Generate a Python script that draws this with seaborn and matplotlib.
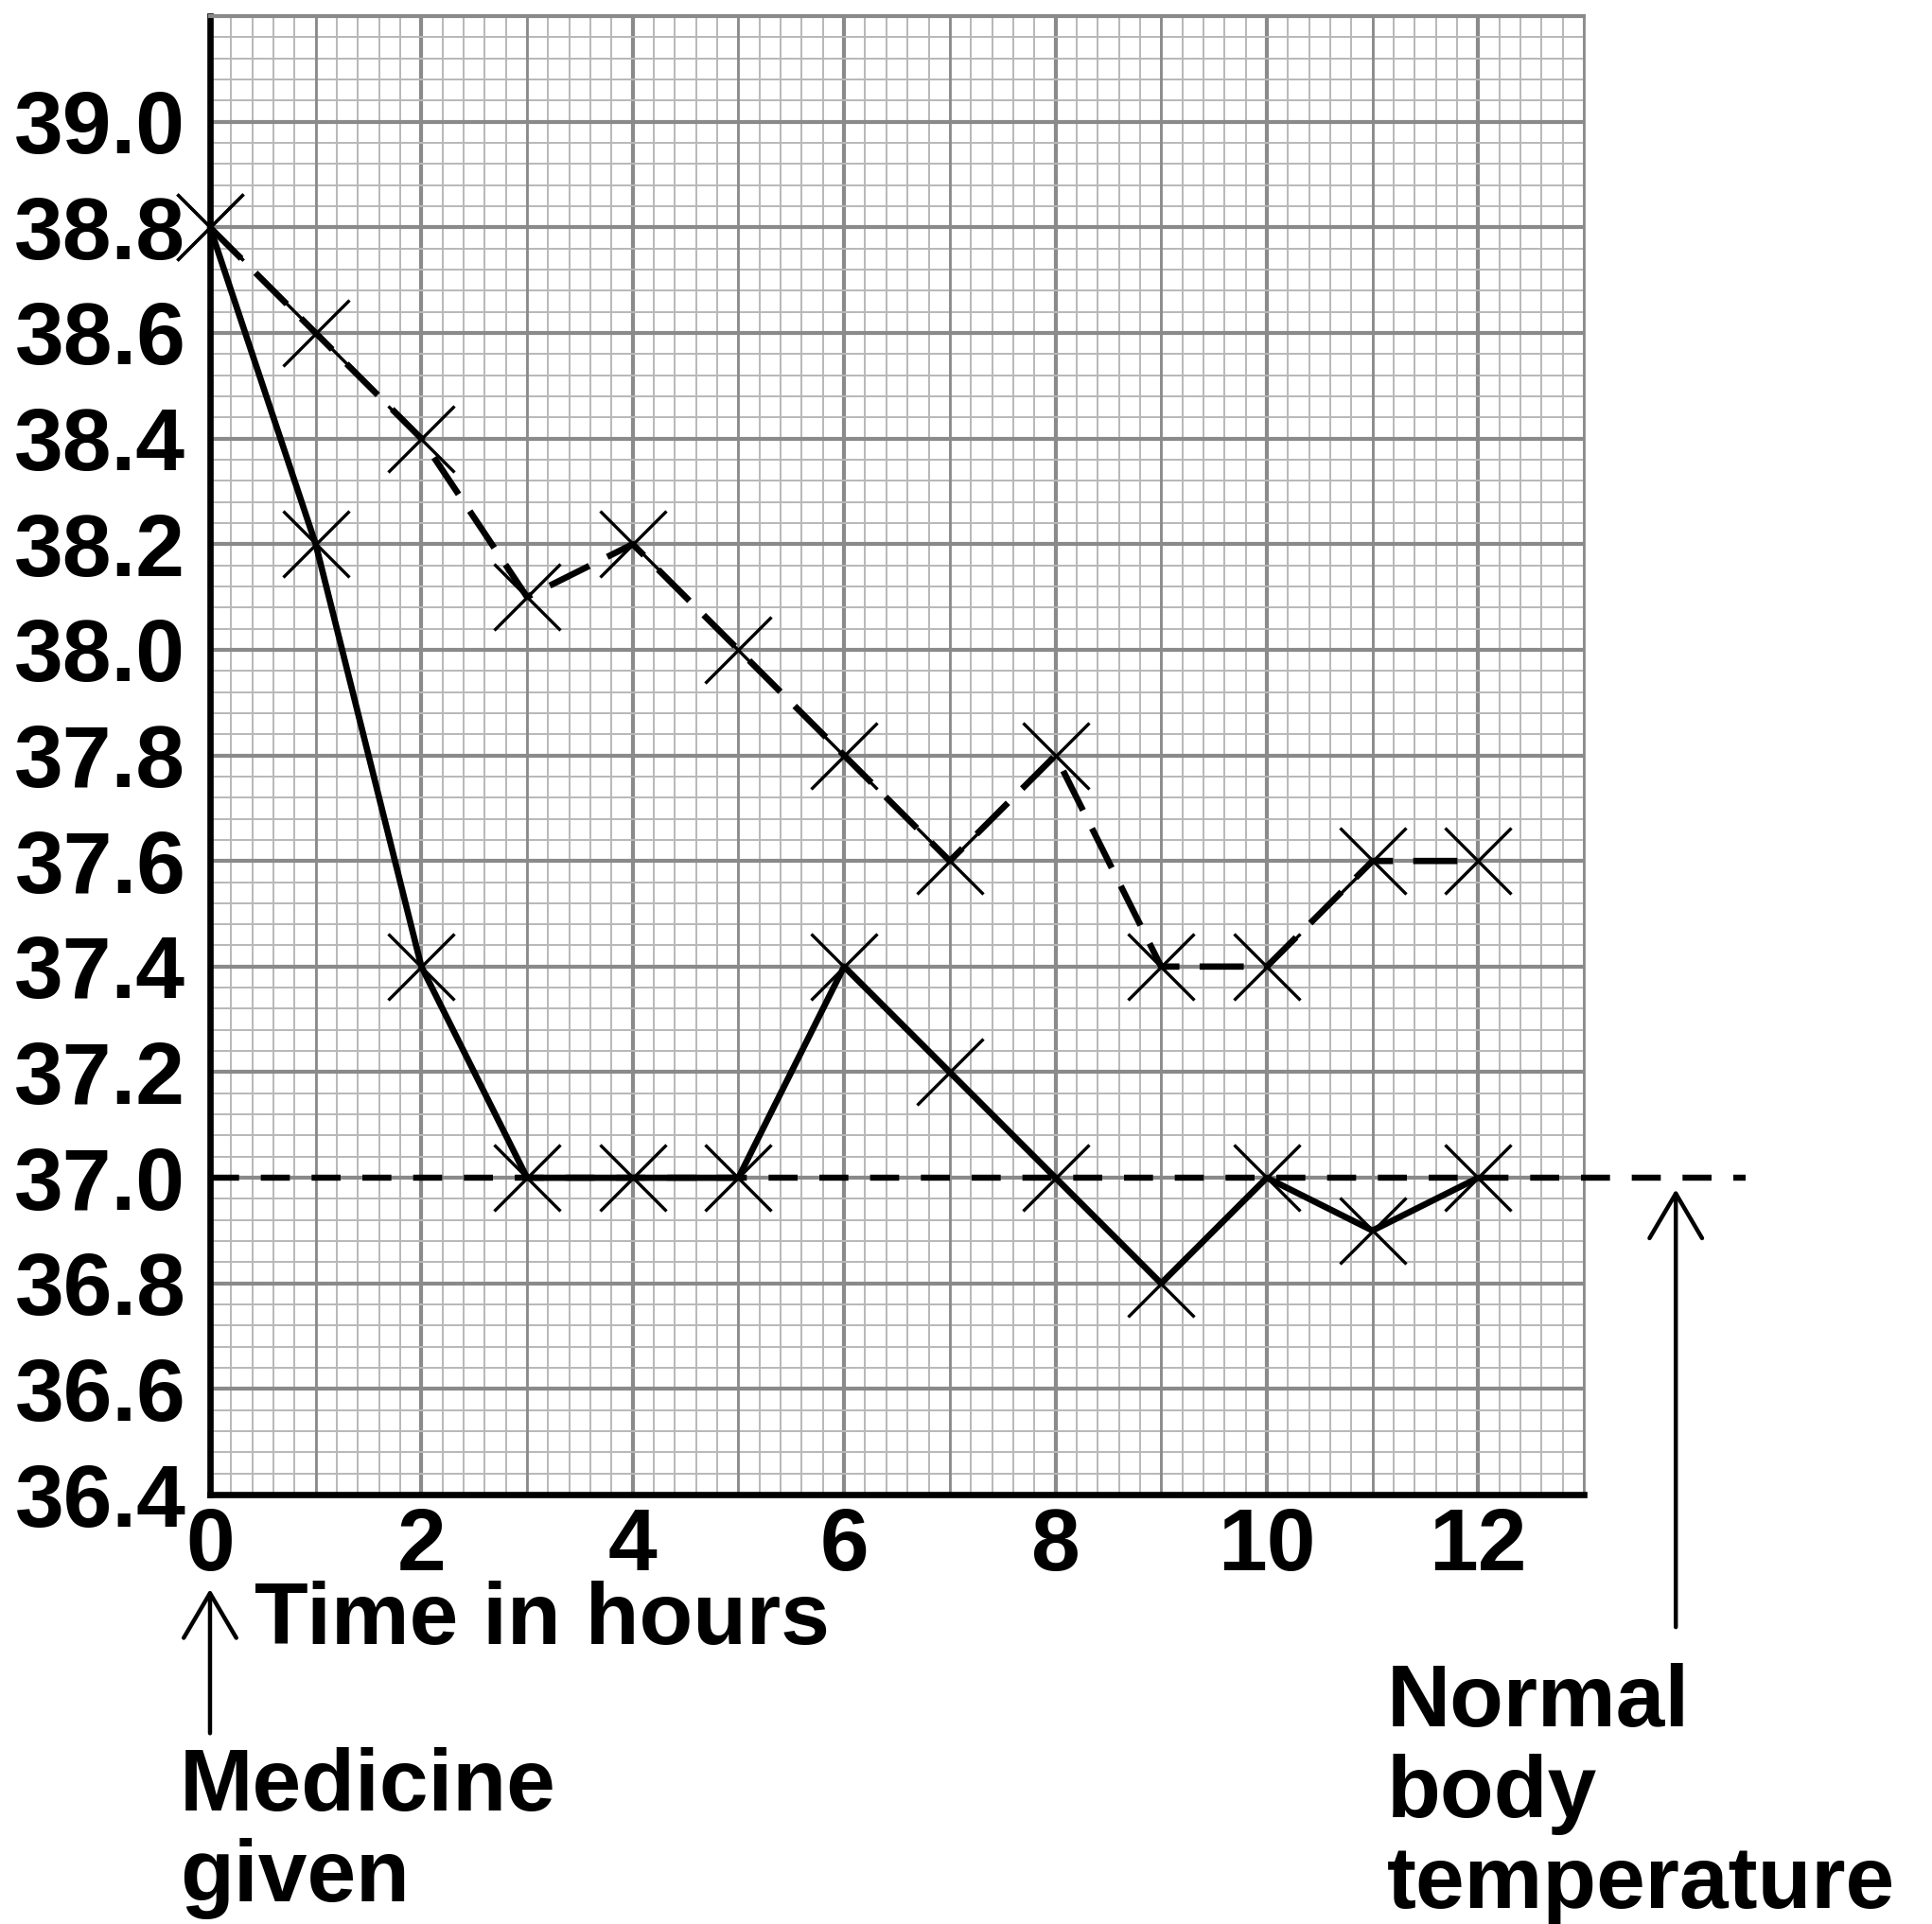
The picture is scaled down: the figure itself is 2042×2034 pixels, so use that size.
import matplotlib
matplotlib.use("Agg")
import pandas as pd
import matplotlib.pyplot as plt
import seaborn as sns
from matplotlib.ticker import FixedLocator, MultipleLocator

# temperature readings, one per hour after the medicine was given
hours = list(range(13))
temp_solid = [38.8, 38.2, 37.4, 37.0, 37.0, 37.0, 37.4, 37.2, 37.0, 36.8, 37.0, 36.9, 37.0]
temp_dashed = [38.8, 38.6, 38.4, 38.1, 38.2, 38.0, 37.8, 37.6, 37.8, 37.4, 37.4, 37.6, 37.6]
normal_temp = 37.0

x_ticks = [0, 2, 4, 6, 8, 10, 12]
y_ticks = [36.4, 36.6, 36.8, 37.0, 37.2, 37.4, 37.6, 37.8, 38.0, 38.2, 38.4, 38.6, 38.8, 39.0]
y_tick_labels = ["36.4", "36.6", "36.8", "37.0", "37.2", "37.4", "37.6",
                 "37.8", "38.0", "38.2", "38.4", "38.6", "38.8", "39.0"]

df = pd.DataFrame({
    "hour": hours + hours,
    "temp": temp_solid + temp_dashed,
    "series": ["solid"] * len(hours) + ["dashed"] * len(hours),
})

sns.set_style("white")
plt.rcParams["font.family"] = ["Liberation Sans", "DejaVu Sans"]
plt.rcParams["font.weight"] = "bold"
plt.rcParams["text.color"] = "black"
FS = 67

fig = plt.figure(figsize=(20.42, 20.34), dpi=100)
ax = fig.add_axes([0.1087, 0.2232, 0.7111, 0.7684])

sns.lineplot(data=df, x="hour", y="temp", hue="series", style="series",
             palette={"solid": "black", "dashed": "black"},
             dashes={"solid": "", "dashed": (7, 3.2)},
             markers={"solid": "x", "dashed": "x"},
             markersize=51, markeredgewidth=2.4, markeredgecolor="black",
             linewidth=4.8, legend=False, ax=ax, zorder=5, clip_on=False)

# graph paper grid
ax.set_xlim(0, 13)
ax.set_ylim(36.4, 39.2)
ax.xaxis.set_major_locator(FixedLocator(x_ticks))
ax.xaxis.set_minor_locator(MultipleLocator(0.2))
ax.yaxis.set_major_locator(FixedLocator(y_ticks))
ax.yaxis.set_minor_locator(MultipleLocator(0.04))
ax.set_yticklabels(y_tick_labels)
ax.grid(which="major", color="#8a8a8a", lw=3)
ax.grid(which="minor", color="#b8b8b8", lw=1.4)
for h in range(1, 13, 2):
    ax.axvline(h, color="#8a8a8a", lw=2, zorder=0.6)

ax.tick_params(axis="y", which="major", length=11.5, width=1.5, color="#777777", pad=7,
               labelsize=FS, labelcolor="black")
ax.tick_params(axis="x", which="major", length=8.6, width=1.5, color="#777777", pad=0.5,
               labelsize=FS, labelcolor="black")
ax.tick_params(which="minor", length=0)
ax.set_xlabel("")
ax.set_ylabel("")

for s in ["left", "bottom"]:
    ax.spines[s].set_color("black")
    ax.spines[s].set_linewidth(4.8)
ax.spines["top"].set_color("#8a8a8a")
ax.spines["top"].set_linewidth(3)
ax.spines["right"].set_color("#8a8a8a")
ax.spines["right"].set_linewidth(2)

# normal body temperature line runs past the grid
ax.axhline(normal_temp, xmin=0, xmax=14.53 / 13, color="black", lw=4.6,
           dashes=(4.8, 3.6), clip_on=False, zorder=4)

arrow = dict(arrowstyle="->,head_length=0.68,head_width=0.4", lw=3.2, color="black",
             mutation_scale=50, shrinkA=0, shrinkB=0)
ax.annotate("", xy=(0, 36.221), xytext=(0, 35.948), arrowprops=arrow, annotation_clip=False)
ax.annotate("", xy=(13.87, 36.978), xytext=(13.87, 36.149), arrowprops=arrow, annotation_clip=False)

# multi-line texts: va="baseline" pins the last line
fig.text(269 / 2042, 1 - 1738 / 2034, "Time in hours", fontsize=FS, fontweight="bold",
         color="black", ha="left", va="baseline")
fig.text(190 / 2042, 1 - 2010 / 2034, "Medicine\ngiven", fontsize=FS, fontweight="bold",
         color="black", ha="left", va="baseline", linespacing=1.15)
fig.text(1466 / 2042, 1 - 2017 / 2034, "Normal\nbody\ntemperature", fontsize=FS,
         fontweight="bold", color="black", ha="left", va="baseline", linespacing=1.15)

fig.savefig("out.png", dpi=100)
